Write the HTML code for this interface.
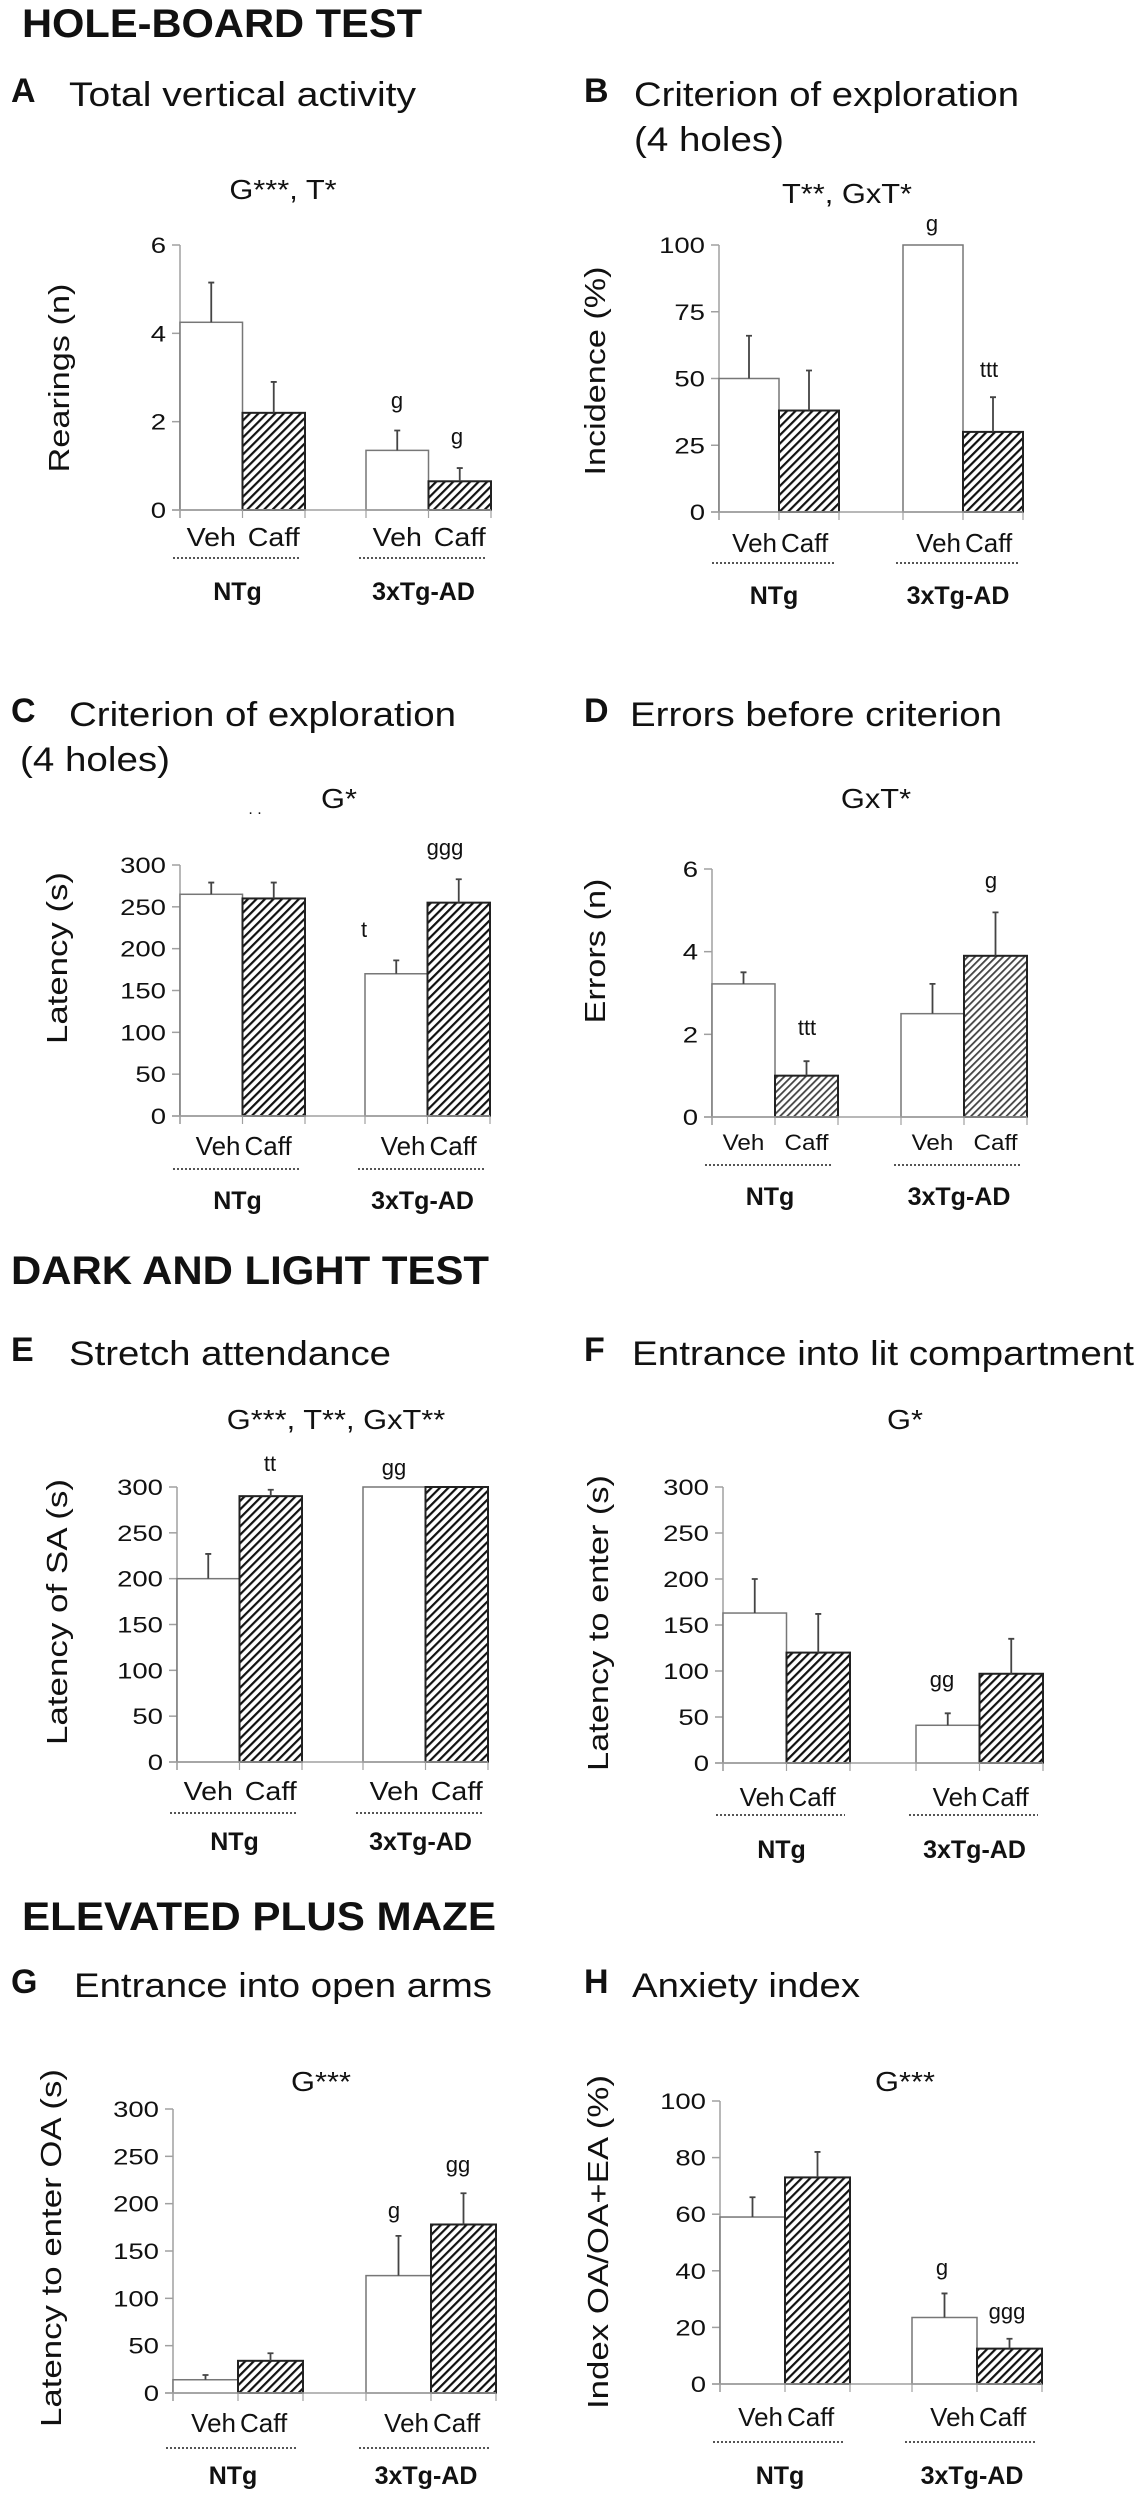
<!DOCTYPE html>
<html><head><meta charset="utf-8"><style>
body{margin:0;background:#fff}
svg{display:block;font-family:"Liberation Sans",Arial,sans-serif}
</style></head><body>
<svg id="fig" width="1140" height="2500" viewBox="0 0 1140 2500" xmlns="http://www.w3.org/2000/svg">
<defs>
<pattern id="hatch" patternUnits="userSpaceOnUse" width="6" height="6" patternTransform="rotate(45)">
<rect width="6" height="6" fill="#fff"/><rect x="0" y="0" width="2.2" height="6" fill="#111"/>
</pattern>
<pattern id="hatch2" patternUnits="userSpaceOnUse" width="5" height="5" patternTransform="rotate(45)">
<rect width="5" height="5" fill="#fff"/><rect x="0" y="0" width="1.8" height="5" fill="#444"/>
</pattern>
</defs>
<g id="root"></g>
</svg>
<script>
// ---- data (one set of small arrays per panel) ----
const groups = ["NTg", "3xTg-AD"];
const treatments = ["Veh", "Caff"];
const aMeans = [4.25, 2.2, 1.35, 0.65];
const aErrs = [5.15, 2.9, 1.8, 0.95];
const aTicks = [0, 2, 4, 6];
const bMeans = [50, 38, 100, 30];
const bErrs = [66, 53, 100, 43];
const bTicks = [0, 25, 50, 75, 100];
const cMeans = [265, 260, 170, 255];
const cErrs = [279, 279, 186, 283];
const cTicks = [0, 50, 100, 150, 200, 250, 300];
const dMeans = [3.22, 1.0, 2.5, 3.9];
const dErrs = [3.5, 1.35, 3.22, 4.95];
const dTicks = [0, 2, 4, 6];
const eMeans = [200, 290, 300, 300];
const eErrs = [227, 297, 300, 300];
const eTicks = [0, 50, 100, 150, 200, 250, 300];
const fMeans = [163, 120, 41, 97];
const fErrs = [200, 162, 54, 135];
const fTicks = [0, 50, 100, 150, 200, 250, 300];
const gMeans = [14, 34, 124, 178];
const gErrs = [19, 42, 166, 211];
const gTicks = [0, 50, 100, 150, 200, 250, 300];
const hMeans = [59, 73, 23.5, 12.5];
const hErrs = [66, 82, 32, 16];
const hTicks = [0, 20, 40, 60, 80, 100];

const NS = "http://www.w3.org/2000/svg";
const root = document.getElementById('root');
function mk(tag, attrs, parent) {
  const e = document.createElementNS(NS, tag);
  for (const k in attrs) e.setAttribute(k, attrs[k]);
  (parent || root).appendChild(e);
  return e;
}
const stretchList = [];
function txt(s, x, y, size, opts, parent) {
  opts = opts || {};
  const t = mk('text', {x: x, y: y, 'font-size': size, fill: '#111', 'text-anchor': opts.anchor || 'start', 'font-weight': opts.bold ? 'bold' : 'normal'}, parent);
  if (opts.rot) t.setAttribute('transform', 'rotate(-90 ' + x + ' ' + y + ')');
  t.textContent = s;
  if (opts.len) stretchList.push([t, opts.len, null]);
  else if (opts.st) stretchList.push([t, null, opts.st]);
  return t;
}

// headers
let h;
h = txt("HOLE-BOARD TEST", 22, 37, 40, {bold: true, len: 400});


h = txt("DARK AND LIGHT TEST", 11, 1284, 40, {bold: true, len: 478});


h = txt("ELEVATED PLUS MAZE", 22, 1930, 40, {bold: true, len: 474});



const panels = [
 {id:'a', letter:'A', title:['Total vertical activity'], lx:11, tx:69, ty:106, tlen:[347],
  ax:180, w:62.5, g2:366, yTop:245, y0:510, max:6, ticks:aTicks, means:aMeans, errs:aErrs,
  ytitle:'Rearings (n)', ytx:59, yty:378, ytlen:189,
  stat:'G***, T*', sx:283, sy:199, lab:546, dot:558, grp:600, fill:'hatch',
  ann:[['g',397,408],['g',457,444]]},
 {id:'b', letter:'B', title:['Criterion of exploration','(4 holes)'], lx:584, tx:634, ty:106, tlen:[385,150],
  ax:719, w:60, g2:903, yTop:245, y0:512, max:100, ticks:bTicks, means:bMeans, errs:bErrs,
  ytitle:'Incidence (%)', ytx:595, yty:371, ytlen:209,
  stat:'T**, GxT*', sx:847, sy:203, lab:552, dot:563, grp:604, fill:'hatch', tight:true,
  ann:[['g',932,231],['ttt',989,377]]},
 {id:'c', letter:'C', title:['Criterion of exploration','(4 holes)'], lx:11, tx:69, ty:726, tlen:[387,150], t2x:20,
  ax:180, w:62.5, g2:365, yTop:865, y0:1116, max:300, ticks:cTicks, means:cMeans, errs:cErrs,
  ytitle:'Latency (s)', ytx:57, yty:958, ytlen:172,
  stat:'G*', sx:339, sy:808, lab:1155, dot:1169, grp:1209, fill:'hatch', tight:true,
  ann:[['t',364,937],['ggg',445,855]]},
 {id:'d', letter:'D', title:['Errors before criterion'], lx:584, tx:630, ty:726, tlen:[372],
  ax:712, w:63, g2:901, yTop:869, y0:1117, max:6, ticks:dTicks, means:dMeans, errs:dErrs,
  ytitle:'Errors (n)', ytx:595, yty:951, ytlen:145,
  stat:'GxT*', sx:876, sy:808, lab:1150, dot:1165, grp:1205, fill:'hatch2', small:true,
  ann:[['ttt',807,1035],['g',991,888]]},
 {id:'e', letter:'E', title:['Stretch attendance'], lx:11, tx:69, ty:1365, tlen:[322],
  ax:177, w:62.5, g2:363, yTop:1487, y0:1762, max:300, ticks:eTicks, means:eMeans, errs:eErrs,
  ytitle:'Latency of SA (s)', ytx:57, yty:1612, ytlen:266,
  stat:'G***, T**, GxT**', sx:336, sy:1429, lab:1800, dot:1813, grp:1850, fill:'hatch',
  ann:[['tt',270,1471],['gg',394,1475]]},
 {id:'f', letter:'F', title:['Entrance into lit compartment'], lx:584, tx:632, ty:1365, tlen:[502],
  ax:723, w:63.5, g2:916, yTop:1487, y0:1763, max:300, ticks:fTicks, means:fMeans, errs:fErrs,
  ytitle:'Latency to enter (s)', ytx:598, yty:1623, ytlen:296,
  stat:'G*', sx:905, sy:1429, lab:1806, dot:1815, grp:1858, fill:'hatch', tight:true,
  ann:[['gg',942,1687]]},
 {id:'g', letter:'G', title:['Entrance into open arms'], lx:11, tx:74, ty:1997, tlen:[418],
  ax:173, w:65, g2:366, yTop:2109, y0:2393, max:300, ticks:gTicks, means:gMeans, errs:gErrs,
  ytitle:'Latency to enter OA (s)', ytx:51, yty:2248, ytlen:358,
  stat:'G***', sx:321, sy:2091, lab:2432, dot:2448, grp:2484, fill:'hatch', tight:true,
  ann:[['g',394,2218],['gg',458,2172]]},
 {id:'h', letter:'H', title:['Anxiety index'], lx:584, tx:632, ty:1997, tlen:[228],
  ax:720, w:65, g2:912, yTop:2101, y0:2384, max:100, ticks:hTicks, means:hMeans, errs:hErrs,
  ytitle:'Index OA/OA+EA (%)', ytx:598, yty:2242, ytlen:334,
  stat:'G***', sx:905, sy:2091, lab:2426, dot:2442, grp:2484, fill:'hatch', tight:true,
  ann:[['g',942,2275],['ggg',1007,2319]]}
];

panels.forEach(p => {
  const g = mk('g', {});
  
  
  const yScale = v => p.y0 - (v / p.max) * (p.y0 - p.yTop);
  const barX = i => (i < 2 ? p.ax : p.g2) + (i % 2) * p.w;
  let t;
  t = txt(p.letter, p.lx, p.ty - 4, 34, {bold: true}, g);
  
  
  t = txt(p.title[0], p.tx, p.ty, 34, {len: p.tlen[0]}, g);
  
  
  if (p.title[1]) {
    t = txt(p.title[1], p.t2x || p.tx, p.ty + 45, 34, {len: p.tlen[1]}, g);
    
    
  }
  t = txt(p.stat, p.sx, p.sy, 28, {anchor: 'middle', st: 1.1}, g);
  
  
  t = txt(p.ytitle, p.ytx + 10, p.yty, 29, {anchor: 'middle', rot: true, len: p.ytlen}, g);
  
  
  // y axis
  let l = mk('line', {x1: p.ax, x2: p.ax, y1: p.yTop, y2: p.y0 + 8, stroke: '#a0a0a0', 'stroke-width': 1.5}, g);
  
  
  p.ticks.forEach(v => {
    const tk = mk('line', {x1: p.ax - 8, x2: p.ax, y1: yScale(v), y2: yScale(v), stroke: '#a0a0a0', 'stroke-width': 1.5}, g);
    
    
    const tl = txt(String(v), p.ax - 14, yScale(v) + 8, 22, {anchor: 'end', st: 1.25}, g);
    
    
  });
  // bars
  p.means.forEach((m, i) => {
    const x = barX(i), y = yScale(m);
    const r = mk('rect', {x: x, y: y, width: p.w, height: p.y0 - y, fill: i % 2 ? 'url(#' + p.fill + ')' : '#fff', stroke: i % 2 ? '#222' : '#777', 'stroke-width': i % 2 ? 2 : 1.5}, g);
    
    
    const e = p.errs[i];
    if (e > m + 0.001) {
      const cx = x + p.w / 2, ey = yScale(e);
      const el = mk('path', {d: 'M' + cx + ' ' + y + 'V' + ey + 'M' + (cx - 3) + ' ' + ey + 'H' + (cx + 3), stroke: '#444', 'stroke-width': 1.8, fill: 'none'}, g);
      
      
    }
  });
  // x baseline
  const xEnd = barX(3) + p.w;
  l = mk('line', {x1: p.ax - 8, x2: xEnd, y1: p.y0, y2: p.y0, stroke: '#a0a0a0', 'stroke-width': 1.5}, g);
  
  
  [p.ax, p.ax + p.w, p.ax + 2 * p.w, p.g2, p.g2 + p.w, p.g2 + 2 * p.w].forEach(x => {
    const tk = mk('line', {x1: x, x2: x, y1: p.y0, y2: p.y0 + 8, stroke: '#a0a0a0', 'stroke-width': 1.2}, g);
    
    
  });
  // labels
  [0, 1].forEach(gi => {
    const gx = gi ? p.g2 : p.ax;
    const mid = gx + p.w;
    treatments.forEach((tr, ti) => {
      let x = gx + p.w / 2 + ti * p.w;
      if (p.tight) x = ti ? gx + p.w + 2 : gx + p.w - 2;
      const lt = txt(tr, x, p.lab, p.small ? 22 : 26, {anchor: p.tight ? (ti ? 'start' : 'end') : 'middle', st: p.tight ? 1.0 : 1.1}, g);
      
      
    });
    const d = mk('line', {x1: gx - 7, x2: gx + 2 * p.w - 5, y1: p.dot, y2: p.dot, stroke: '#555', 'stroke-width': 2, 'stroke-dasharray': '2 2'}, g);
    
    
    const gt = txt(groups[gi], mid - 5, p.grp, 25, {anchor: 'middle', bold: true}, g);
    
    
  });
  p.ann.forEach(a => {
    const at = txt(a[0], a[1], a[2], 22, {anchor: 'middle'}, g);
    
    
  });
});
// C stray dots
const sd = txt(". .", 255, 814, 16, {anchor: 'middle'});



stretchList.forEach(([t, len, st]) => {
  let w = len;
  if (!w) { try { w = t.getComputedTextLength() * st; } catch (e) { w = null; } }
  if (w) { t.setAttribute('textLength', w); t.setAttribute('lengthAdjust', 'spacingAndGlyphs'); }
});
</script>
</body></html>
